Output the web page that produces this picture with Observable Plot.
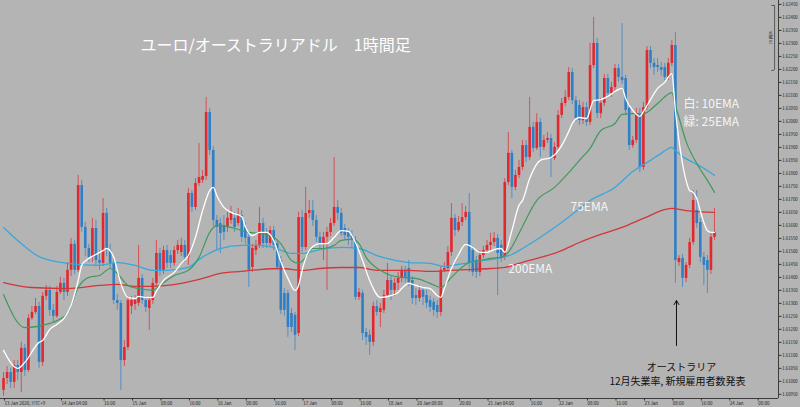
<!DOCTYPE html>
<html><head><meta charset="utf-8">
<script src="https://cdn.jsdelivr.net/npm/d3@7"></script>
<script src="https://cdn.jsdelivr.net/npm/@observablehq/plot@0.6"></script>
<style>
html,body{margin:0;padding:0;background:#b4b4b4;}
#chart{width:800px;height:407px;overflow:hidden;}
#chart svg{display:block;}
</style>
</head><body><div id="chart"></div>
<script>
// ---- hourly candles, EUR/AUD, bar index 0 = 13 Jan 12:00 (UTC+9) ----
const opens = [
1.60965,1.61011,1.61034,1.60996,1.61061,1.61034,1.61127,1.61042,1.61242,1.61265,
1.61288,1.61073,1.61327,1.61350,1.61273,1.61250,1.61342,1.61377,1.61342,1.61427,
1.61527,1.61427,1.61753,1.61592,1.61511,1.61477,1.61588,1.61465,1.61454,1.61646,
1.61503,1.61454,1.61311,1.61300,1.61080,1.61130,1.61288,1.61296,1.61300,1.61396,
1.61311,1.61280,1.61311,1.61377,1.61492,1.61427,1.61503,1.61484,1.61454,1.61503,
1.61496,1.61523,1.61477,1.61723,1.61669,1.61761,1.61773,1.61788,1.62034,1.61888,
1.61619,1.61607,1.61600,1.61592,1.61619,1.61627,1.61607,1.61638,1.61592,1.61554,
1.61438,1.61503,1.61523,1.61607,1.61569,1.61530,1.61580,1.61530,1.61465,1.61338,
1.61338,1.61261,1.61254,1.61184,1.61630,1.61515,1.61646,1.61657,1.61619,1.61554,
1.61530,1.61554,1.61573,1.61607,1.61669,1.61646,1.61588,1.61573,1.61561,1.61542,
1.61323,1.61338,1.61188,1.61177,1.61150,1.61288,1.61265,1.61273,1.61330,1.61388,
1.61350,1.61377,1.61396,1.61427,1.61434,1.61388,1.61330,1.61319,1.61350,1.61330,
1.61311,1.61304,1.61292,1.61265,1.61427,1.61434,1.61496,1.61627,1.61580,1.61611,
1.61630,1.61650,1.61503,1.61465,1.61419,1.61484,1.61503,1.61523,1.61534,1.61550,
1.61523,1.61477,1.61765,1.61877,1.61746,1.61792,1.61823,1.61907,1.61861,1.61977,
1.61896,1.61996,1.61900,1.61927,1.61934,1.61857,1.61900,1.62023,1.62069,1.62092,
1.62188,1.62080,1.62061,1.62003,1.62053,1.61996,1.62215,1.62300,1.62030,1.62069,
1.62165,1.62107,1.62130,1.62203,1.62169,1.62165,1.62050,1.61907,1.61927,1.62030,
1.61823,1.62053,1.62273,1.62223,1.62215,1.62207,1.62207,1.62169,1.62223,1.62292,
1.61457,1.61473,1.61396,1.61446,1.61534,1.61657,1.61611,1.61477,1.61465,1.61427,
1.61554];
const highs = [
1.61034,1.61057,1.61050,1.61080,1.61080,1.61150,1.61142,1.61257,1.61288,1.61319,
1.61304,1.61342,1.61369,1.61365,1.61296,1.61365,1.61400,1.61396,1.61457,1.61550,
1.61542,1.61792,1.61773,1.61611,1.61527,1.61627,1.61619,1.61503,1.61703,1.61665,
1.61527,1.61473,1.61334,1.61311,1.61157,1.61327,1.61327,1.61330,1.61523,1.61411,
1.61327,1.61327,1.61396,1.61542,1.61511,1.61519,1.61523,1.61503,1.61519,1.61542,
1.61550,1.61542,1.61742,1.61734,1.61780,1.61915,1.61811,1.62092,1.62050,1.61903,
1.61638,1.61627,1.61638,1.61650,1.61673,1.61650,1.61665,1.61657,1.61611,1.61573,
1.61527,1.61542,1.61669,1.61627,1.61588,1.61596,1.61596,1.61542,1.61480,1.61357,
1.61350,1.61280,1.61265,1.61650,1.61657,1.61746,1.61696,1.61696,1.61638,1.61573,
1.61573,1.61592,1.61627,1.61861,1.61696,1.61665,1.61604,1.61588,1.61580,1.61557,
1.61357,1.61350,1.61204,1.61196,1.61304,1.61311,1.61300,1.61350,1.61454,1.61403,
1.61396,1.61419,1.61442,1.61442,1.61465,1.61403,1.61357,1.61369,1.61365,1.61350,
1.61327,1.61319,1.61311,1.61442,1.61457,1.61519,1.61684,1.61642,1.61634,1.61684,
1.61673,1.61723,1.61519,1.61480,1.61503,1.61519,1.61542,1.61569,1.61573,1.61565,
1.61542,1.61780,1.61957,1.61888,1.61811,1.61850,1.61927,1.61927,1.62092,1.61996,
1.62030,1.62011,1.61946,1.61957,1.61950,1.61919,1.62042,1.62088,1.62119,1.62207,
1.62203,1.62096,1.62080,1.62073,1.62073,1.62300,1.62400,1.62319,1.62088,1.62180,
1.62180,1.62150,1.62219,1.62219,1.62376,1.62177,1.62065,1.61942,1.62050,1.62050,
1.62073,1.62288,1.62288,1.62242,1.62242,1.62227,1.62223,1.62242,1.62311,1.62342,
1.61484,1.61488,1.61457,1.61550,1.61734,1.61734,1.61627,1.61496,1.61484,1.61569,
1.61665];
const lows = [
1.60942,1.60988,1.60973,1.60973,1.61003,1.60957,1.61019,1.61034,1.61234,1.61257,
1.61050,1.61057,1.61311,1.61250,1.61227,1.61242,1.61334,1.61311,1.61327,1.61403,
1.61411,1.61419,1.61573,1.61480,1.61457,1.61457,1.61442,1.61427,1.61442,1.61480,
1.61434,1.61296,1.61273,1.60965,1.61057,1.61119,1.61257,1.61273,1.61288,1.61296,
1.61265,1.61196,1.61296,1.61365,1.61403,1.61411,1.61434,1.61434,1.61442,1.61488,
1.61480,1.61457,1.61446,1.61650,1.61657,1.61750,1.61761,1.61773,1.61869,1.61596,
1.61503,1.61492,1.61542,1.61573,1.61604,1.61573,1.61596,1.61534,1.61527,1.61361,
1.61419,1.61484,1.61511,1.61511,1.61511,1.61519,1.61503,1.61427,1.61257,1.61250,
1.61169,1.61188,1.61119,1.61173,1.61496,1.61503,1.61627,1.61596,1.61534,1.61503,
1.61465,1.61350,1.61557,1.61596,1.61619,1.61557,1.61542,1.61523,1.61511,1.61311,
1.61311,1.61157,1.61138,1.61100,1.61134,1.61250,1.61207,1.61261,1.61323,1.61311,
1.61327,1.61350,1.61380,1.61380,1.61365,1.61296,1.61292,1.61304,1.61292,1.61280,
1.61265,1.61250,1.61242,1.61250,1.61419,1.61427,1.61480,1.61557,1.61573,1.61596,
1.61619,1.61419,1.61403,1.61396,1.61403,1.61473,1.61492,1.61503,1.61519,1.61330,
1.61457,1.61465,1.61753,1.61703,1.61734,1.61780,1.61811,1.61842,1.61850,1.61880,
1.61888,1.61861,1.61888,1.61915,1.61784,1.61850,1.61888,1.62011,1.62057,1.62080,
1.62065,1.61996,1.61984,1.61988,1.61980,1.61984,1.62203,1.62011,1.62011,1.62057,
1.62088,1.62092,1.62111,1.62150,1.62142,1.62023,1.61888,1.61896,1.61915,1.61803,
1.61811,1.62042,1.62203,1.62177,1.62188,1.62173,1.62157,1.62157,1.62211,1.61377,
1.61442,1.61361,1.61380,1.61434,1.61523,1.61588,1.61457,1.61369,1.61338,1.61411,
1.61542];
const closes = [
1.61011,1.61034,1.60996,1.61061,1.61034,1.61127,1.61042,1.61242,1.61265,1.61288,
1.61073,1.61327,1.61350,1.61273,1.61250,1.61342,1.61377,1.61342,1.61427,1.61527,
1.61427,1.61753,1.61592,1.61511,1.61477,1.61588,1.61465,1.61454,1.61646,1.61503,
1.61454,1.61311,1.61300,1.61080,1.61130,1.61311,1.61311,1.61311,1.61396,1.61311,
1.61284,1.61311,1.61377,1.61492,1.61427,1.61503,1.61454,1.61454,1.61503,1.61523,
1.61523,1.61477,1.61723,1.61669,1.61761,1.61784,1.61788,1.62034,1.61888,1.61619,
1.61592,1.61569,1.61573,1.61627,1.61646,1.61592,1.61638,1.61554,1.61550,1.61427,
1.61511,1.61523,1.61607,1.61530,1.61530,1.61580,1.61523,1.61438,1.61273,1.61273,
1.61207,1.61207,1.61177,1.61630,1.61515,1.61646,1.61657,1.61619,1.61554,1.61530,
1.61554,1.61573,1.61607,1.61669,1.61646,1.61569,1.61561,1.61554,1.61542,1.61323,
1.61342,1.61184,1.61169,1.61150,1.61288,1.61265,1.61280,1.61330,1.61388,1.61350,
1.61377,1.61396,1.61427,1.61400,1.61380,1.61319,1.61319,1.61350,1.61323,1.61300,
1.61284,1.61273,1.61265,1.61427,1.61434,1.61496,1.61627,1.61580,1.61611,1.61630,
1.61650,1.61457,1.61419,1.61419,1.61484,1.61503,1.61523,1.61534,1.61550,1.61492,
1.61477,1.61765,1.61877,1.61746,1.61792,1.61823,1.61907,1.61861,1.61977,1.61896,
1.61996,1.61900,1.61927,1.61934,1.61857,1.61900,1.62023,1.62069,1.62092,1.62188,
1.62080,1.62011,1.62003,1.62053,1.61996,1.62215,1.62300,1.62030,1.62069,1.62165,
1.62107,1.62130,1.62203,1.62169,1.62157,1.62042,1.61907,1.61927,1.62030,1.61823,
1.62053,1.62273,1.62223,1.62207,1.62207,1.62196,1.62169,1.62223,1.62292,1.61465,
1.61473,1.61396,1.61446,1.61534,1.61696,1.61607,1.61477,1.61446,1.61427,1.61554,
1.61573];

// ---- moving averages (bar index, value) ----
const ema10Bars = [0,4,6,10,11,13,15,17,19,21,22,24,26,28,29,31,32,33,35,37,38,40,42,43,45,48,50,52,54,56,58,59,60,62,64,67,68,70,72,74,76,78,80,82,83,84,85,87,89,91,93,95,97,99,101,103,106,109,111,112,114,116,118,120,122,123,124,126,128,130,132,134,136,138,140,141,143,145,146,148,151,154,157,159,160,162,164,166,168,170,172,174,175,177,179,180,182,184,186,188,189,190,191,192,193,194,195,196,197,198,199,200];
const ema10 = [1.61119,1.61050,1.61073,1.61150,1.61157,1.61200,1.61219,1.61242,1.61292,1.61388,1.61446,1.61473,1.61488,1.61503,1.61511,1.61477,1.61427,1.61377,1.61323,1.61319,1.61327,1.61323,1.61323,1.61346,1.61388,1.61419,1.61454,1.61484,1.61554,1.61657,1.61734,1.61746,1.61715,1.61669,1.61650,1.61634,1.61596,1.61561,1.61573,1.61573,1.61542,1.61461,1.61396,1.61350,1.61369,1.61427,1.61473,1.61519,1.61530,1.61530,1.61554,1.61580,1.61577,1.61534,1.61465,1.61388,1.61323,1.61330,1.61342,1.61357,1.61377,1.61369,1.61361,1.61357,1.61330,1.61323,1.61357,1.61434,1.61488,1.61527,1.61515,1.61496,1.61496,1.61507,1.61511,1.61496,1.61580,1.61677,1.61696,1.61780,1.61850,1.61861,1.61907,1.61961,1.61992,1.62015,1.62011,1.62080,1.62084,1.62096,1.62115,1.62127,1.62088,1.62042,1.62019,1.62038,1.62084,1.62127,1.62150,1.62184,1.62042,1.61927,1.61838,1.61773,1.61734,1.61727,1.61703,1.61657,1.61611,1.61580,1.61573,1.61573];
const ema25Bars = [0,6,13,18,21,24,27,30,32,35,38,42,44,48,52,55,58,60,64,69,72,76,78,81,83,85,87,90,93,95,98,100,102,106,109,112,116,120,123,126,128,131,134,137,140,142,145,150,155,159,162,165,168,172,174,177,180,184,188,189,190,192,195,198,200];
const ema25 = [1.61334,1.61207,1.61223,1.61261,1.61361,1.61400,1.61407,1.61434,1.61415,1.61369,1.61357,1.61350,1.61369,1.61407,1.61427,1.61477,1.61573,1.61600,1.61592,1.61573,1.61569,1.61554,1.61530,1.61465,1.61454,1.61477,1.61511,1.61511,1.61523,1.61542,1.61546,1.61530,1.61477,1.61427,1.61407,1.61400,1.61396,1.61377,1.61361,1.61400,1.61427,1.61457,1.61465,1.61473,1.61477,1.61496,1.61569,1.61696,1.61746,1.61803,1.61850,1.61896,1.61965,1.61992,1.62027,1.62030,1.62030,1.62069,1.62111,1.62061,1.62015,1.61923,1.61838,1.61773,1.61727];
const ema75Bars = [0,5,10,18,27,32,37,42,46,52,55,61,67,72,76,81,84,89,95,100,105,109,114,120,124,128,133,139,143,145,151,157,161,165,172,177,182,185,188,189,191,194,198,200];
const ema75 = [1.61592,1.61530,1.61480,1.61454,1.61446,1.61457,1.61446,1.61427,1.61427,1.61438,1.61469,1.61511,1.61523,1.61523,1.61515,1.61492,1.61492,1.61507,1.61515,1.61511,1.61484,1.61469,1.61457,1.61454,1.61442,1.61450,1.61461,1.61473,1.61488,1.61503,1.61554,1.61611,1.61653,1.61696,1.61746,1.61807,1.61850,1.61877,1.61900,1.61888,1.61865,1.61842,1.61811,1.61792];
const ema200Bars = [0,8,18,27,32,37,41,46,50,55,61,67,72,78,84,89,95,100,105,109,114,120,126,131,137,141,145,157,162,168,174,180,188,192,200];
const ema200 = [1.61380,1.61361,1.61357,1.61369,1.61373,1.61365,1.61365,1.61369,1.61377,1.61392,1.61415,1.61423,1.61430,1.61434,1.61427,1.61434,1.61438,1.61438,1.61427,1.61427,1.61427,1.61423,1.61427,1.61430,1.61434,1.61438,1.61454,1.61503,1.61534,1.61565,1.61592,1.61627,1.61665,1.61657,1.61650];

// ---- axes ----
const yTicks = [1.6095,1.6100,1.6105,1.6110,1.6115,1.6120,1.6125,1.6130,1.6135,1.6140,1.6145,1.6150,1.6155,1.6160,1.6165,1.6170,1.6175,1.6180,1.6185,1.6190,1.6195,1.6200,1.6205,1.6210,1.6215,1.6220,1.6225,1.6230,1.6235,1.6240,1.6245];
const xTickBars = [0,16,28,36,44,52,60,68,76,84,92,100,108,116,128,136,148,156,164,172,180,188,196,204,212];
const xTickLabels = ["13 Jan 2020, UTC+9","14 Jan 04:00","16:00","15 Jan","08:00","16:00","16 Jan","08:00","16:00","17 Jan","08:00","16:00","18 Jan","20 Jan 08:00","20:00","21 Jan 04:00","16:00","22 Jan","08:00","16:00","23 Jan","08:00","16:00","24 Jan","08:00"];

const candles = opens.map((o, i) => ({i, o, h: highs[i], l: lows[i], c: closes[i]}));
const series = (bars, vals) => bars.map((b, k) => ({i: b, v: vals[k]}));
const RED = "#e2272d", BLUE = "#2f7fc6";
const col = d => d.c >= d.o ? RED : BLUE;
const xLabel = new Map(xTickBars.map((b, k) => [b, xTickLabels[k]]));
const xDomain = [-0.85, 218.0];
const yDomain = [1.60934, 1.62465];
const JP = "'Noto Sans CJK JP', 'Noto Sans', sans-serif";

const chart = Plot.plot({
  width: 800, height: 407,
  marginTop: 0, marginBottom: 9, marginLeft: 0, marginRight: 22,
  x: {domain: xDomain, axis: null},
  y: {domain: yDomain, axis: null},
  color: {type: "identity"},
  style: {background: "#b4b4b4", fontFamily: JP, overflow: "hidden"},
  marks: [
    Plot.ruleX(candles, {x: "i", y1: "l", y2: "h", stroke: col, strokeWidth: 1, strokeOpacity: 0.7}),
    Plot.ruleX(candles, {x: "i", y1: "o", y2: "c", stroke: col, strokeWidth: 2.6}),
    Plot.line(series(ema200Bars, ema200), {x: "i", y: "v", stroke: "#d3363b", strokeWidth: 1.3, curve: "monotone-x"}),
    Plot.line(series(ema75Bars, ema75), {x: "i", y: "v", stroke: "#3aa7da", strokeWidth: 1.3, curve: "monotone-x"}),
    Plot.line(series(ema25Bars, ema25), {x: "i", y: "v", stroke: "#3f9a5c", strokeWidth: 1.2, curve: "monotone-x"}),
    Plot.line(series(ema10Bars, ema10), {x: "i", y: "v", stroke: "#ffffff", strokeWidth: 1.3, curve: "monotone-x"}),
    // frame lines (right and bottom)
    Plot.ruleX([xDomain[1]], {stroke: "#3c3c3c", strokeWidth: 1}),
    Plot.ruleY([yDomain[0]], {stroke: "#3c3c3c", strokeWidth: 1}),
    Plot.axisY({anchor: "right", ticks: yTicks, tickFormat: d3.format(".5f"), tickSize: 2.5, tickPadding: 1.2, fontSize: 4.3, stroke: "#333", fill: "#222"}),
    Plot.axisX({anchor: "bottom", ticks: xTickBars, tickFormat: d => xLabel.get(d), tickSize: 2.5, tickPadding: 1, textAnchor: "start", dx: 1, fontSize: 4.5, stroke: "#333", fill: "#222"}),
    // 25 pips bracket
    Plot.ruleX([216.9], {y1: 1.62196, y2: 1.62446, stroke: "#444", strokeWidth: 0.8}),
    Plot.ruleY([1.62196, 1.62446], {x1: 216.1, x2: 216.9, stroke: "#444", strokeWidth: 0.8}),
    Plot.text(["25 pips"], {x: 215.7, y: 1.62321, rotate: -90, fontSize: 4, fill: "#333"}),
    // title & labels
    Plot.text(["ユーロ/オーストラリアドル　1時間足"], {x: 38.5, y: 1.62292, textAnchor: "start", fill: "#ffffff", fontSize: 16}),
    Plot.text(["白: 10EMA"], {x: 191.3, y: 1.62065, textAnchor: "start", fill: "#f4f4f4", fontSize: 12}),
    Plot.text(["緑: 25EMA"], {x: 191.3, y: 1.61996, textAnchor: "start", fill: "#f4f4f4", fontSize: 12}),
    Plot.text(["75EMA"], {x: 159.5, y: 1.61669, textAnchor: "start", fill: "#f4f4f4", fontSize: 12}),
    Plot.text(["200EMA"], {x: 142.0, y: 1.61430, textAnchor: "start", fill: "#f4f4f4", fontSize: 12}),
    Plot.arrow([{x: 189.3}], {x1: "x", x2: "x", y1: 1.61138, y2: 1.61311, stroke: "#111", strokeWidth: 1, headLength: 7}),
    Plot.text(["オーストラリア"], {x: 190.7, y: 1.61054, fill: "#111", fontSize: 10}),
    Plot.text(["12月失業率, 新規雇用者数発表"], {x: 189.6, y: 1.61000, fill: "#111", fontSize: 10})
  ]
});
document.getElementById("chart").appendChild(chart);
</script>
</body></html>
